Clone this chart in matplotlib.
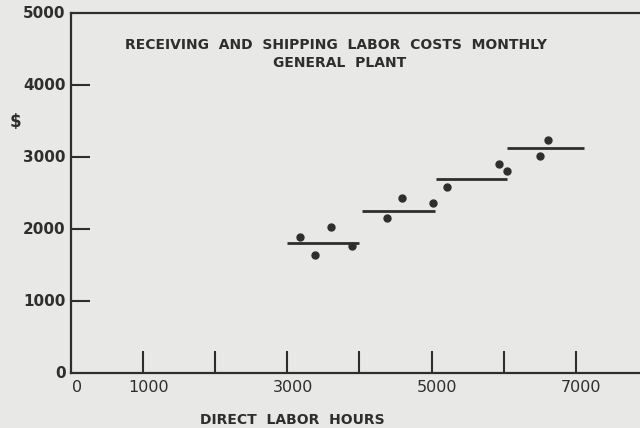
import matplotlib
matplotlib.use("Agg")
import matplotlib.pyplot as plt

# Monthly receiving & shipping labor cost against direct labor hours
hours = [3170, 3390, 3600, 3900, 4380, 4590, 5020, 5220, 5930, 6050, 6500, 6620]
cost = [1890, 1640, 2030, 1770, 2150, 2430, 2360, 2590, 2910, 2800, 3010, 3230]

# Step budget allowance: (start hours, end hours, dollars)
step_start = [3000, 4040, 5060, 6050]
step_end = [4000, 5050, 6050, 7110]
step_level = [1800, 2250, 2700, 3130]

x_ticks = [1000, 2000, 3000, 4000, 5000, 6000, 7000]
x_label_pos = [0, 1000, 3000, 5000, 7000]
x_label_txt = ["0", "1000", "3000", "5000", "7000"]
y_ticks = [1000, 2000, 3000, 4000]
y_label_pos = [0, 1000, 2000, 3000, 4000, 5000]
y_label_txt = ["0", "1000", "2000", "3000", "4000", "5000"]

bg = "#e8e8e6"
ink = "#2e2e2e"

fig = plt.figure(figsize=(6.4, 4.28), dpi=100, facecolor=bg)
ax = fig.add_axes([0.111, 0.1285, 0.889, 0.841], facecolor=bg)
ax.set_xlim(0, 7890)
ax.set_ylim(0, 5000)

for s in ["left", "bottom", "top"]:
    ax.spines[s].set_color(ink)
    ax.spines[s].set_linewidth(1.6)
ax.spines["right"].set_visible(False)

ax.hlines(step_level, step_start, step_end, color=ink, lw=2.0)
ax.plot(hours, cost, "o", color=ink, ms=5, mec=ink)

# tick marks drawn inward, labels placed separately
ax.set_xticks(x_ticks)
ax.set_xticklabels([])
ax.set_yticks(y_ticks)
ax.set_yticklabels([])
ax.tick_params(axis="x", direction="in", length=16, width=1.5, color=ink)
ax.tick_params(axis="y", direction="in", length=14, width=1.5, color=ink)

font = dict(family="DejaVu Sans", color=ink)
for xv, t in zip(x_label_pos, x_label_txt):
    ax.annotate(t, (xv, 0), xytext=(4, -5), textcoords="offset points",
                ha="center", va="top", fontsize=11.5, **font)
for yv, t in zip(y_label_pos, y_label_txt):
    ax.annotate(t, (0, yv), xytext=(-4, 0), textcoords="offset points",
                ha="right", va="center", fontsize=11, fontweight="bold", **font)

fig.text(0.525, 0.895, "RECEIVING  AND  SHIPPING  LABOR  COSTS  MONTHLY",
         ha="center", va="center", fontsize=10, fontweight="bold", **font)
fig.text(0.53, 0.853, "GENERAL  PLANT", ha="center", va="center",
         fontsize=10, fontweight="bold", **font)
fig.text(0.024, 0.715, "$", ha="center", va="center", fontsize=12, fontweight="bold", **font)
fig.text(0.456, 0.018, "DIRECT  LABOR  HOURS", ha="center", va="center",
         fontsize=10, fontweight="bold", **font)

fig.savefig("out.png", dpi=100, facecolor=bg)
